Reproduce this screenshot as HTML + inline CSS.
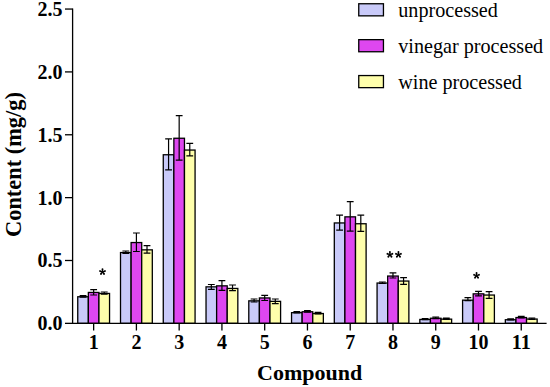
<!DOCTYPE html><html><head><meta charset="utf-8"><style>html,body{margin:0;padding:0;background:#fff;width:550px;height:387px;overflow:hidden}svg{display:block}text{font-family:"Liberation Serif",serif}</style></head><body>
<svg width="550" height="387" viewBox="0 0 550 387">
<rect x="77.75" y="296.75" width="10.60" height="26.60" fill="#c9caf9" stroke="#000" stroke-width="1.3"/>
<rect x="88.35" y="292.45" width="10.60" height="30.90" fill="#de47f0" stroke="#000" stroke-width="1.3"/>
<rect x="98.95" y="293.45" width="10.60" height="29.90" fill="#fefeab" stroke="#000" stroke-width="1.3"/>
<path d="M83.05 295.60V297.20M79.65 295.60H86.45M79.65 297.20H86.45" stroke="#000" stroke-width="1.2" fill="none"/>
<path d="M93.65 289.70V295.00M90.25 289.70H97.05M90.25 295.00H97.05" stroke="#000" stroke-width="1.2" fill="none"/>
<path d="M104.25 292.00V294.20M100.85 292.00H107.65M100.85 294.20H107.65" stroke="#000" stroke-width="1.2" fill="none"/>
<rect x="120.51" y="252.55" width="10.60" height="70.80" fill="#c9caf9" stroke="#000" stroke-width="1.3"/>
<rect x="131.11" y="242.55" width="10.60" height="80.80" fill="#de47f0" stroke="#000" stroke-width="1.3"/>
<rect x="141.71" y="249.85" width="10.60" height="73.50" fill="#fefeab" stroke="#000" stroke-width="1.3"/>
<path d="M125.81 251.00V253.40M122.41 251.00H129.21M122.41 253.40H129.21" stroke="#000" stroke-width="1.2" fill="none"/>
<path d="M136.41 233.00V251.50M133.01 233.00H139.81M133.01 251.50H139.81" stroke="#000" stroke-width="1.2" fill="none"/>
<path d="M147.01 245.70V253.10M143.61 245.70H150.41M143.61 253.10H150.41" stroke="#000" stroke-width="1.2" fill="none"/>
<rect x="163.27" y="154.75" width="10.60" height="168.60" fill="#c9caf9" stroke="#000" stroke-width="1.3"/>
<rect x="173.87" y="138.25" width="10.60" height="185.10" fill="#de47f0" stroke="#000" stroke-width="1.3"/>
<rect x="184.47" y="150.05" width="10.60" height="173.30" fill="#fefeab" stroke="#000" stroke-width="1.3"/>
<path d="M168.57 138.90V169.90M165.17 138.90H171.97M165.17 169.90H171.97" stroke="#000" stroke-width="1.2" fill="none"/>
<path d="M179.17 115.60V160.10M175.77 115.60H182.57M175.77 160.10H182.57" stroke="#000" stroke-width="1.2" fill="none"/>
<path d="M189.77 143.40V155.90M186.37 143.40H193.17M186.37 155.90H193.17" stroke="#000" stroke-width="1.2" fill="none"/>
<rect x="206.03" y="286.85" width="10.60" height="36.50" fill="#c9caf9" stroke="#000" stroke-width="1.3"/>
<rect x="216.63" y="285.85" width="10.60" height="37.50" fill="#de47f0" stroke="#000" stroke-width="1.3"/>
<rect x="227.23" y="288.45" width="10.60" height="34.90" fill="#fefeab" stroke="#000" stroke-width="1.3"/>
<path d="M211.33 284.50V289.30M207.93 284.50H214.73M207.93 289.30H214.73" stroke="#000" stroke-width="1.2" fill="none"/>
<path d="M221.93 280.60V290.40M218.53 280.60H225.33M218.53 290.40H225.33" stroke="#000" stroke-width="1.2" fill="none"/>
<path d="M232.53 285.00V290.70M229.13 285.00H235.93M229.13 290.70H235.93" stroke="#000" stroke-width="1.2" fill="none"/>
<rect x="248.79" y="300.85" width="10.60" height="22.50" fill="#c9caf9" stroke="#000" stroke-width="1.3"/>
<rect x="259.39" y="297.95" width="10.60" height="25.40" fill="#de47f0" stroke="#000" stroke-width="1.3"/>
<rect x="269.99" y="301.35" width="10.60" height="22.00" fill="#fefeab" stroke="#000" stroke-width="1.3"/>
<path d="M254.09 299.00V302.00M250.69 299.00H257.49M250.69 302.00H257.49" stroke="#000" stroke-width="1.2" fill="none"/>
<path d="M264.69 295.30V300.50M261.29 295.30H268.09M261.29 300.50H268.09" stroke="#000" stroke-width="1.2" fill="none"/>
<path d="M275.29 299.00V303.60M271.89 299.00H278.69M271.89 303.60H278.69" stroke="#000" stroke-width="1.2" fill="none"/>
<rect x="291.55" y="312.65" width="10.60" height="10.70" fill="#c9caf9" stroke="#000" stroke-width="1.3"/>
<rect x="302.15" y="311.75" width="10.60" height="11.60" fill="#de47f0" stroke="#000" stroke-width="1.3"/>
<rect x="312.75" y="313.55" width="10.60" height="9.80" fill="#fefeab" stroke="#000" stroke-width="1.3"/>
<path d="M296.85 311.60V313.00M293.45 311.60H300.25M293.45 313.00H300.25" stroke="#000" stroke-width="1.2" fill="none"/>
<path d="M307.45 310.60V312.20M304.05 310.60H310.85M304.05 312.20H310.85" stroke="#000" stroke-width="1.2" fill="none"/>
<path d="M318.05 312.40V314.00M314.65 312.40H321.45M314.65 314.00H321.45" stroke="#000" stroke-width="1.2" fill="none"/>
<rect x="334.31" y="222.95" width="10.60" height="100.40" fill="#c9caf9" stroke="#000" stroke-width="1.3"/>
<rect x="344.91" y="216.85" width="10.60" height="106.50" fill="#de47f0" stroke="#000" stroke-width="1.3"/>
<rect x="355.51" y="223.75" width="10.60" height="99.60" fill="#fefeab" stroke="#000" stroke-width="1.3"/>
<path d="M339.61 215.20V230.10M336.21 215.20H343.01M336.21 230.10H343.01" stroke="#000" stroke-width="1.2" fill="none"/>
<path d="M350.21 201.60V231.10M346.81 201.60H353.61M346.81 231.10H353.61" stroke="#000" stroke-width="1.2" fill="none"/>
<path d="M360.81 215.20V231.40M357.41 215.20H364.21M357.41 231.40H364.21" stroke="#000" stroke-width="1.2" fill="none"/>
<rect x="377.07" y="283.05" width="10.60" height="40.30" fill="#c9caf9" stroke="#000" stroke-width="1.3"/>
<rect x="387.67" y="276.05" width="10.60" height="47.30" fill="#de47f0" stroke="#000" stroke-width="1.3"/>
<rect x="398.27" y="281.05" width="10.60" height="42.30" fill="#fefeab" stroke="#000" stroke-width="1.3"/>
<path d="M382.37 282.00V283.50M378.97 282.00H385.77M378.97 283.50H385.77" stroke="#000" stroke-width="1.2" fill="none"/>
<path d="M392.97 272.90V278.00M389.57 272.90H396.37M389.57 278.00H396.37" stroke="#000" stroke-width="1.2" fill="none"/>
<path d="M403.57 277.60V284.30M400.17 277.60H406.97M400.17 284.30H406.97" stroke="#000" stroke-width="1.2" fill="none"/>
<rect x="419.83" y="319.45" width="10.60" height="3.90" fill="#c9caf9" stroke="#000" stroke-width="1.3"/>
<rect x="430.43" y="318.25" width="10.60" height="5.10" fill="#de47f0" stroke="#000" stroke-width="1.3"/>
<rect x="441.03" y="319.15" width="10.60" height="4.20" fill="#fefeab" stroke="#000" stroke-width="1.3"/>
<path d="M425.13 318.50V319.70M421.73 318.50H428.53M421.73 319.70H428.53" stroke="#000" stroke-width="1.2" fill="none"/>
<path d="M435.73 317.20V318.60M432.33 317.20H439.13M432.33 318.60H439.13" stroke="#000" stroke-width="1.2" fill="none"/>
<path d="M446.33 318.20V319.40M442.93 318.20H449.73M442.93 319.40H449.73" stroke="#000" stroke-width="1.2" fill="none"/>
<rect x="462.59" y="300.15" width="10.60" height="23.20" fill="#c9caf9" stroke="#000" stroke-width="1.3"/>
<rect x="473.19" y="293.85" width="10.60" height="29.50" fill="#de47f0" stroke="#000" stroke-width="1.3"/>
<rect x="483.79" y="295.05" width="10.60" height="28.30" fill="#fefeab" stroke="#000" stroke-width="1.3"/>
<path d="M467.89 297.60V300.70M464.49 297.60H471.29M464.49 300.70H471.29" stroke="#000" stroke-width="1.2" fill="none"/>
<path d="M478.49 291.30V295.80M475.09 291.30H481.89M475.09 295.80H481.89" stroke="#000" stroke-width="1.2" fill="none"/>
<path d="M489.09 291.60V298.30M485.69 291.60H492.49M485.69 298.30H492.49" stroke="#000" stroke-width="1.2" fill="none"/>
<rect x="505.35" y="319.75" width="10.60" height="3.60" fill="#c9caf9" stroke="#000" stroke-width="1.3"/>
<rect x="515.95" y="317.55" width="10.60" height="5.80" fill="#de47f0" stroke="#000" stroke-width="1.3"/>
<rect x="526.55" y="319.05" width="10.60" height="4.30" fill="#fefeab" stroke="#000" stroke-width="1.3"/>
<path d="M510.65 318.80V320.00M507.25 318.80H514.05M507.25 320.00H514.05" stroke="#000" stroke-width="1.2" fill="none"/>
<path d="M521.25 316.40V318.00M517.85 316.40H524.65M517.85 318.00H524.65" stroke="#000" stroke-width="1.2" fill="none"/>
<path d="M531.85 318.00V319.40M528.45 318.00H535.25M528.45 319.40H535.25" stroke="#000" stroke-width="1.2" fill="none"/>
<path d="M72.6 8.4V323.35H546.6" stroke="#000" stroke-width="1.3" fill="none"/>
<path d="M65 323.35H72.6" stroke="#000" stroke-width="1.3"/>
<text x="62.4" y="330.25" text-anchor="end" font-size="20" font-weight="bold">0.0</text>
<path d="M65 260.49H72.6" stroke="#000" stroke-width="1.3"/>
<text x="62.4" y="267.39" text-anchor="end" font-size="20" font-weight="bold">0.5</text>
<path d="M65 197.63H72.6" stroke="#000" stroke-width="1.3"/>
<text x="62.4" y="204.53" text-anchor="end" font-size="20" font-weight="bold">1.0</text>
<path d="M65 134.77H72.6" stroke="#000" stroke-width="1.3"/>
<text x="62.4" y="141.67" text-anchor="end" font-size="20" font-weight="bold">1.5</text>
<path d="M65 71.91H72.6" stroke="#000" stroke-width="1.3"/>
<text x="62.4" y="78.81" text-anchor="end" font-size="20" font-weight="bold">2.0</text>
<path d="M65 9.05H72.6" stroke="#000" stroke-width="1.3"/>
<text x="62.4" y="15.95" text-anchor="end" font-size="20" font-weight="bold">2.5</text>
<path d="M93.65 323.35V330.5" stroke="#000" stroke-width="1.3"/>
<text x="93.65" y="348.8" text-anchor="middle" font-size="20" font-weight="bold">1</text>
<path d="M136.41 323.35V330.5" stroke="#000" stroke-width="1.3"/>
<text x="136.41" y="348.8" text-anchor="middle" font-size="20" font-weight="bold">2</text>
<path d="M179.17 323.35V330.5" stroke="#000" stroke-width="1.3"/>
<text x="179.17" y="348.8" text-anchor="middle" font-size="20" font-weight="bold">3</text>
<path d="M221.93 323.35V330.5" stroke="#000" stroke-width="1.3"/>
<text x="221.93" y="348.8" text-anchor="middle" font-size="20" font-weight="bold">4</text>
<path d="M264.69 323.35V330.5" stroke="#000" stroke-width="1.3"/>
<text x="264.69" y="348.8" text-anchor="middle" font-size="20" font-weight="bold">5</text>
<path d="M307.45 323.35V330.5" stroke="#000" stroke-width="1.3"/>
<text x="307.45" y="348.8" text-anchor="middle" font-size="20" font-weight="bold">6</text>
<path d="M350.21 323.35V330.5" stroke="#000" stroke-width="1.3"/>
<text x="350.21" y="348.8" text-anchor="middle" font-size="20" font-weight="bold">7</text>
<path d="M392.97 323.35V330.5" stroke="#000" stroke-width="1.3"/>
<text x="392.97" y="348.8" text-anchor="middle" font-size="20" font-weight="bold">8</text>
<path d="M435.73 323.35V330.5" stroke="#000" stroke-width="1.3"/>
<text x="435.73" y="348.8" text-anchor="middle" font-size="20" font-weight="bold">9</text>
<path d="M478.49 323.35V330.5" stroke="#000" stroke-width="1.3"/>
<text x="478.49" y="348.8" text-anchor="middle" font-size="20" font-weight="bold">10</text>
<path d="M521.25 323.35V330.5" stroke="#000" stroke-width="1.3"/>
<text x="521.25" y="348.8" text-anchor="middle" font-size="20" font-weight="bold">11</text>
<text x="309.7" y="380.3" text-anchor="middle" font-size="22" font-weight="bold">Compound</text>
<text transform="translate(20.8 164.5) rotate(-90)" text-anchor="middle" font-size="22.4" font-weight="bold">Content (mg/g)</text>
<path d="M102.95 271.85L103.45 269.30A0.95 0.95 0 0 0 101.55 269.30L102.05 271.85ZM102.64 272.28L105.22 271.97A0.95 0.95 0 0 0 104.63 270.16L102.36 271.42ZM102.64 271.42L100.37 270.16A0.95 0.95 0 0 0 99.78 271.97L102.36 272.28ZM102.14 272.11L103.23 274.47A0.95 0.95 0 0 0 104.77 273.35L102.86 271.59ZM102.14 271.59L100.23 273.35A0.95 0.95 0 0 0 101.77 274.47L102.86 272.11Z" fill="#000"/><circle cx="102.50" cy="271.85" r="0.8" fill="#000"/>
<path d="M390.35 254.60L390.85 252.05A0.95 0.95 0 0 0 388.95 252.05L389.45 254.60ZM390.04 255.03L392.62 254.72A0.95 0.95 0 0 0 392.03 252.91L389.76 254.17ZM390.04 254.17L387.77 252.91A0.95 0.95 0 0 0 387.18 254.72L389.76 255.03ZM389.54 254.86L390.63 257.22A0.95 0.95 0 0 0 392.17 256.10L390.26 254.34ZM389.54 254.34L387.63 256.10A0.95 0.95 0 0 0 389.17 257.22L390.26 254.86Z" fill="#000"/><circle cx="389.90" cy="254.60" r="0.8" fill="#000"/>
<path d="M398.90 254.60L399.40 252.05A0.95 0.95 0 0 0 397.50 252.05L398.00 254.60ZM398.59 255.03L401.17 254.72A0.95 0.95 0 0 0 400.58 252.91L398.31 254.17ZM398.59 254.17L396.32 252.91A0.95 0.95 0 0 0 395.73 254.72L398.31 255.03ZM398.09 254.86L399.18 257.22A0.95 0.95 0 0 0 400.72 256.10L398.81 254.34ZM398.09 254.34L396.18 256.10A0.95 0.95 0 0 0 397.72 257.22L398.81 254.86Z" fill="#000"/><circle cx="398.45" cy="254.60" r="0.8" fill="#000"/>
<path d="M477.00 275.60L477.50 273.05A0.95 0.95 0 0 0 475.60 273.05L476.10 275.60ZM476.69 276.03L479.27 275.72A0.95 0.95 0 0 0 478.68 273.91L476.41 275.17ZM476.69 275.17L474.42 273.91A0.95 0.95 0 0 0 473.83 275.72L476.41 276.03ZM476.19 275.86L477.28 278.22A0.95 0.95 0 0 0 478.82 277.10L476.91 275.34ZM476.19 275.34L474.28 277.10A0.95 0.95 0 0 0 475.82 278.22L476.91 275.86Z" fill="#000"/><circle cx="476.55" cy="275.60" r="0.8" fill="#000"/>
<rect x="358.75" y="3.75" width="24.7" height="12.1" fill="#c9caf9" stroke="#000" stroke-width="1.3"/>
<text x="398.3" y="16.70" font-size="20.15">unprocessed</text>
<rect x="358.75" y="39.65" width="24.7" height="12.1" fill="#de47f0" stroke="#000" stroke-width="1.3"/>
<text x="398.3" y="52.60" font-size="20.15">vinegar processed</text>
<rect x="358.75" y="75.55" width="24.7" height="12.1" fill="#fefeab" stroke="#000" stroke-width="1.3"/>
<text x="398.3" y="88.50" font-size="20.15">wine processed</text>
</svg></body></html>
